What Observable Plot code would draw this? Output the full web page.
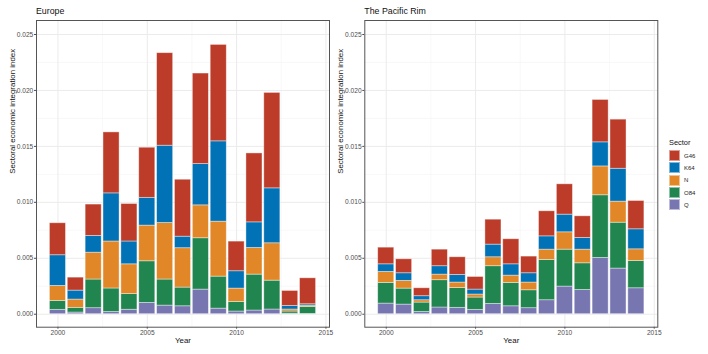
<!DOCTYPE html>
<html><head><meta charset="utf-8">
<script src="https://cdn.jsdelivr.net/npm/d3@7"></script>
<script src="https://cdn.jsdelivr.net/npm/@observablehq/plot@0.6"></script>
<style>
body{margin:0;background:#fff;font-family:"Liberation Sans",Arial,sans-serif;}
#wrap{position:relative;width:708px;height:354px;overflow:hidden;background:#fff;}
.title{position:absolute;top:6.5px;font-size:8.8px;font-weight:400;color:#111;line-height:1;white-space:nowrap;}
.panel{position:absolute;top:0;}
#legend{position:absolute;left:669px;top:137.5px;color:#111;}
#legend .lt{font-size:7.4px;height:12px;line-height:9px;}
#legend .row{display:flex;align-items:center;height:12.3px;}
#legend .key{width:11px;height:11px;box-sizing:border-box;border:0.8px solid rgba(255,255,255,0.5);margin-right:4px;}
#legend .lab{font-size:6px;color:#222;}
</style></head><body>
<div id="wrap"></div>
<script>
const years = [2000,2001,2002,2003,2004,2005,2006,2007,2008,2009,2010,2011,2012,2013,2014];
const sectors = ["G46","K64","N","O84","Q"];
const stackOrder = ["Q","O84","N","K64","G46"];
const sectorColors = ["#BC3C29","#0072B5","#E18727","#20854E","#7876B1"];
const xTickValues = [2000,2005,2010,2015];
const yTickValues = [0,0.005,0.010,0.015,0.020,0.025];

const europeG46 = [0.00286,0.00116,0.0028,0.00545,0.00335,0.00448,0.00827,0.00509,0.00809,0.00862,0.00265,0.00616,0.00853,0.00134,0.00232];
const europeK64 = [0.00274,0.0008,0.0015,0.0043,0.00204,0.00248,0.00691,0.00103,0.00369,0.00718,0.00155,0.00229,0.00491,0.00032,0.00012];
const europeN   = [0.00134,0.00074,0.0024,0.0042,0.00266,0.00319,0.00505,0.00352,0.00294,0.00491,0.00119,0.00238,0.00334,0.00018,0.00012];
const europeO84 = [0.0008,0.00042,0.00256,0.0021,0.0014,0.00372,0.00233,0.00167,0.00459,0.00286,0.00086,0.00321,0.00258,0.00019,0.00062];
const europeQ   = [0.00039,0.00015,0.00054,0.0002,0.0004,0.00101,0.00077,0.00071,0.0022,0.0005,0.00024,0.00033,0.00042,0.00005,0.00003];

const pacificG46 = [0.00149,0.00125,0.00071,0.00148,0.00158,0.00113,0.00223,0.00224,0.00149,0.00224,0.00271,0.00193,0.00379,0.00439,0.00253];
const pacificK64 = [0.00068,0.00068,0.00036,0.00075,0.00068,0.00044,0.00113,0.00101,0.00083,0.00119,0.00158,0.00105,0.00215,0.00294,0.00179];
const pacificN   = [0.00098,0.00069,0.00021,0.0005,0.00048,0.00027,0.0008,0.00065,0.00069,0.00092,0.00155,0.00122,0.00258,0.00188,0.00104];
const pacificO84 = [0.00185,0.00143,0.00084,0.00244,0.00178,0.0011,0.00337,0.00209,0.0016,0.0036,0.0033,0.00238,0.0056,0.0041,0.00244];
const pacificQ   = [0.00095,0.00086,0.0002,0.0006,0.00057,0.00039,0.00092,0.00071,0.00054,0.00125,0.00247,0.00217,0.00503,0.00408,0.00232];

const yLabel = "Sectoral economic integration index";
const xLabel = "Year";
const legendTitle = "Sector";

const wrap = document.getElementById("wrap");

function buildPanel(title, series, left, marginLeft, labelDx) {
  const data = [];
  years.forEach((yr, i) => stackOrder.forEach(s => data.push({year: yr, sector: s, value: series[s][i]})));
  const yMinor = yTickValues.slice(0, -1).map((v, i) => (v + yTickValues[i + 1]) / 2);
  const xMinor = xTickValues.map(v => v + 2.5).filter(v => v < 2015.2);
  const W = 340, panelW = 293;
  const svg = Plot.plot({
    width: W, height: 354,
    marginLeft, marginRight: W - marginLeft - panelW, marginTop: 20, marginBottom: 27.3,
    x: {domain: [1998.8, 2015.2], ticks: xTickValues, tickFormat: d3.format("d"), tickSize: 2, tickPadding: 1.5, label: null},
    y: {domain: [-0.00116, 0.02625], ticks: yTickValues, tickFormat: d3.format(".3f"), tickSize: 2, tickPadding: 1.2, label: null},
    color: {domain: sectors, range: sectorColors},
    style: {fontFamily: '"Liberation Sans", Arial, sans-serif', fontSize: "6.6px", color: "#4d4d4d", background: "transparent", overflow: "visible"},
    marks: [
      Plot.ruleY(yMinor, {stroke: "#f3f3f3", strokeWidth: 0.6}),
      Plot.ruleX(xMinor, {stroke: "#f3f3f3", strokeWidth: 0.6}),
      Plot.ruleY(yTickValues, {stroke: "#ebebeb", strokeWidth: 1}),
      Plot.ruleX(xTickValues, {stroke: "#ebebeb", strokeWidth: 1}),
      Plot.rectY(data, Plot.stackY({
        x1: d => d.year - 0.45, x2: d => d.year + 0.45,
        y: "value", z: "sector", fill: "sector", order: stackOrder,
        stroke: "white", strokeOpacity: 0.5, strokeWidth: 0.8
      })),
      Plot.frame({stroke: "#555", strokeWidth: 1}),
      Plot.text([yLabel], {frameAnchor: "left", dx: labelDx, rotate: -90, fontSize: 7.9, fill: "#111", text: d => d}),
      Plot.text([xLabel], {frameAnchor: "bottom", dy: 15.3, fontSize: 7.9, fill: "#111", text: d => d})
    ]
  });
  const div = document.createElement("div");
  div.className = "panel";
  div.style.left = left + "px";
  div.appendChild(svg);
  wrap.appendChild(div);
  const t = document.createElement("div");
  t.className = "title";
  t.style.left = (left + marginLeft) + "px";
  t.textContent = title;
  wrap.appendChild(t);
}

buildPanel("Europe", {G46: europeG46, K64: europeK64, N: europeN, O84: europeO84, Q: europeQ}, 0, 36, -24.5);
buildPanel("The Pacific Rim", {G46: pacificG46, K64: pacificK64, N: pacificN, O84: pacificO84, Q: pacificQ}, 330, 34.3, -24);

const legend = document.createElement("div");
legend.id = "legend";
const lt = document.createElement("div");
lt.className = "lt"; lt.textContent = legendTitle;
legend.appendChild(lt);
sectors.forEach((s, i) => {
  const row = document.createElement("div"); row.className = "row";
  const k = document.createElement("div"); k.className = "key"; k.style.background = sectorColors[i];
  const l = document.createElement("div"); l.className = "lab"; l.textContent = s;
  row.appendChild(k); row.appendChild(l); legend.appendChild(row);
});
wrap.appendChild(legend);
</script>
</body></html>
